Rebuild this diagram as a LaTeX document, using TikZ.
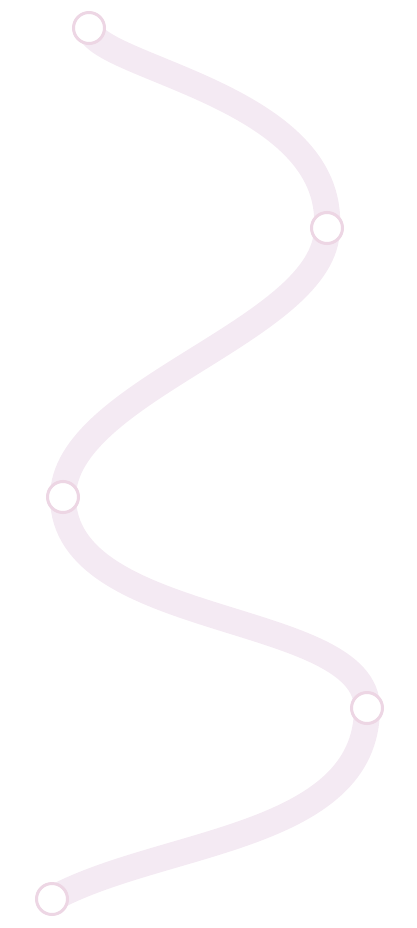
\documentclass[tikz,border=0pt]{standalone}
\usepackage{tikz}
\definecolor{pathpink}{RGB}{244,234,243}
\definecolor{ringpink}{RGB}{237,214,228}

\begin{document}
\begin{tikzpicture}[
    x=1pt, y=-1pt,
    stop/.style={
        circle,
        draw=ringpink,
        line width=3pt,
        fill=white,
        minimum size=31pt,
        inner sep=0pt
    },
    road/.style={
        draw=pathpink,
        line width=26pt,
        line cap=round
    }
]

\useasboundingbox (0,0) rectangle (417,928);

% Tappe
\coordinate (c1) at (89,28);
\coordinate (c2) at (327,228);
\coordinate (c3) at (63,497);
\coordinate (c4) at (367,708);
\coordinate (c5) at (52,899);

% Percorso
\draw[road] (c1) .. controls (95,68) and (335,95) .. (c2)
                 .. controls (327,330) and (63,390) .. (c3)
                 .. controls (63,630) and (367,610) .. (c4)
                 .. controls (367,840) and (160,840) .. (c5);

% Cerchi
\node[stop] (s1) at (c1) {};
\node[stop] (s2) at (c2) {};
\node[stop] (s3) at (c3) {};
\node[stop] (s4) at (c4) {};
\node[stop] (s5) at (c5) {};

\end{tikzpicture}
\end{document}
